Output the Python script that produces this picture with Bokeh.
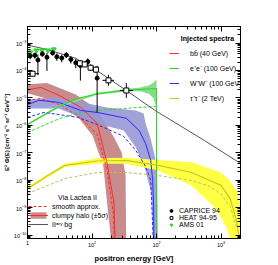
import numpy as np
from bokeh.plotting import figure
from bokeh.models import (LogAxis, FixedTicker, LogTickFormatter, Legend, LegendItem,
                          Label, Range1d, CustomJSTickFormatter)
from bokeh.embed import file_html
from bokeh.resources import INLINE

# ---------------- data (energies in GeV, fluxes as log10 of E^2 Phi) ----------------
# secondary background
bg_E = [1.0, 2.0, 5.6, 11.2, 34.0, 95.0, 550.0, 2000.0]
bg_log = [-3.08, -3.23, -3.56, -3.96, -4.73, -5.46, -6.55, -7.39]

# b bbar (40 GeV)
bb_E = [1.0, 1.62, 3.16, 6.76, 12.0, 17.0, 21.9, 22.9]
bb_log = [-4.70, -4.62, -4.92, -5.35, -5.93, -7.35, -8.82, -10.5]
bb_smooth_E = [1.0, 1.6, 3.2, 6.8, 12.0, 17.0, 21.4, 22.4]
bb_smooth_log = [-5.09, -5.02, -5.25, -5.75, -6.33, -7.60, -9.20, -10.5]
bb_up_E = [1.0, 2.0, 5.6, 11.2, 15.8, 22.4, 28.8, 33.1, 33.9]
bb_up_log = [-4.50, -4.46, -4.88, -5.38, -5.89, -6.48, -6.99, -7.80, -10.5]
bb_lo_E = [1.0, 3.16, 6.3, 10.2, 12.6, 14.8, 17.0, 20.4]
bb_lo_log = [-4.83, -5.16, -5.75, -6.37, -6.99, -7.39, -8.75, -10.5]

# e+e- (100 GeV)
ee_E = [1.0, 1.8, 3.16, 6.0, 12.0, 33.9, 67.6, 98.0, 100.0, 100.0]
ee_log = [-5.97, -5.62, -5.30, -5.02, -4.85, -4.72, -4.68, -4.66, -4.66, -10.5]
ee_smooth_E = [1.0, 1.8, 3.16, 6.0, 12.0, 33.9, 100.0, 100.0]
ee_smooth_log = [-6.26, -6.00, -5.75, -5.57, -5.46, -5.38, -5.31, -10.5]
ee_band_E = [1.0, 3.16, 12.0, 33.9, 56.2, 75.9, 89.1, 100.0]
ee_up_log = [-5.93, -5.26, -4.81, -4.68, -4.62, -4.55, -4.45, -4.33]
ee_lo_log = [-6.01, -5.34, -4.89, -4.77, -4.76, -4.85, -5.00, -5.35]

# W+W- (100 GeV)
ww_E = [1.0, 1.51, 3.0, 6.8, 12.0, 33.9, 53.7, 67.6, 81.3, 87.1, 90.2, 91.0]
ww_log = [-5.24, -5.09, -5.16, -5.46, -5.53, -5.74, -6.19, -6.66, -7.28, -8.01, -9.0, -10.5]
ww_smooth_E = [1.0, 1.8, 6.0, 12.0, 30.9, 47.9, 67.6, 81.3, 90.2]
ww_smooth_log = [-5.71, -5.53, -5.71, -5.97, -6.40, -6.92, -7.50, -8.01, -10.5]
ww_up_E = [1.0, 3.0, 17.0, 47.9, 63.1, 67.6, 81.3, 95.5, 102.0, 105.0]
ww_up_log = [-5.06, -4.98, -5.35, -5.46, -5.57, -5.93, -6.50, -7.20, -8.00, -10.5]
ww_lo_E = [1.0, 3.0, 12.0, 30.9, 47.9, 67.6, 83.2, 89.1]
ww_lo_log = [-5.39, -5.39, -5.93, -6.19, -6.81, -7.65, -8.50, -10.5]

# tau+tau- (2 TeV)
tt_E = [1.0, 2.0, 3.8, 12.0, 33.9, 107.0, 350.0, 1000.0, 1380.0, 1700.0, 1950.0]
tt_log = [-8.31, -7.85, -7.46, -7.30, -7.28, -7.46, -7.72, -8.19, -8.67, -9.40, -10.2]
tt_smooth_E = [1.0, 3.8, 12.0, 33.9, 107.0, 350.0, 630.0, 1000.0, 1410.0, 1780.0]
tt_smooth_log = [-8.49, -7.94, -7.72, -7.72, -7.83, -8.01, -8.20, -8.50, -9.00, -9.80]
tt_up_E = [1.0, 3.8, 12.0, 33.9, 107.0, 350.0, 1000.0, 1380.0, 1820.0, 2040.0, 2090.0]
tt_up_log = [-8.26, -7.40, -7.20, -7.18, -7.26, -7.35, -7.72, -8.01, -8.45, -9.03, -10.5]
tt_lo_E = [1.0, 3.8, 12.0, 33.9, 107.0, 350.0, 830.0, 1175.0, 1585.0]
tt_lo_log = [-8.36, -7.52, -7.40, -7.40, -7.65, -8.19, -9.03, -9.65, -10.5]

# measurements
cap_E = [1.1, 1.3, 1.45, 1.7, 2.0, 2.45, 2.85, 3.4, 4.0, 4.7, 5.6, 6.6, 8.6, 12.0]
cap_log = [-3.47, -3.45, -3.62, -3.40, -3.52, -3.36, -3.50, -3.55, -3.44, -3.60, -3.72, -3.82, -3.68, -4.28]
cap_err_lo = [0.12, 0.12, 0.55, 0.10, 0.50, 0.10, 0.15, 0.15, 0.10, 0.15, 0.20, 0.55, 0.15, 1.25]
cap_err_hi = [0.10, 0.10, 0.20, 0.10, 0.15, 0.10, 0.12, 0.12, 0.10, 0.12, 0.15, 0.20, 0.12, 0.45]

heat_E = [1.2, 6.5, 7.7, 9.5, 11.5, 18.0, 34.0]
heat_Elo = [1.0, 6.0, 7.1, 8.8, 10.5, 14.5, 27.0]
heat_Ehi = [1.5, 7.0, 8.4, 10.4, 12.8, 22.0, 43.0]
heat_log = [-4.12, -3.74, -3.78, -3.90, -3.97, -4.36, -4.73]
heat_err = [0.08, 0.10, 0.10, 0.12, 0.12, 0.20, 0.27]

ams_E = [1.1, 1.37, 1.68, 2.07, 2.55]
ams_log = [-3.34, -3.27, -3.27, -3.27, -3.23]
ams_err = [0.05, 0.05, 0.05, 0.05, 0.05]

x_ticks = [1, 10, 100, 1000]
y_exponents = list(range(-10, -2))

# ---------------- helpers ----------------
def f(v):
    return list(10.0 ** np.asarray(v, dtype=float))

def band(up_E, up_log, lo_E, lo_log):
    return list(up_E) + list(lo_E)[::-1], f(list(up_log) + list(lo_log)[::-1])

FONT = "Liberation Sans"

p = figure(x_axis_type="log", y_axis_type="log",
           x_range=Range1d(1, 2000), y_range=Range1d(7.5e-11, 4e-3),
           width=262, height=265,
           min_border_left=20, min_border_right=22, min_border_top=26, min_border_bottom=27,
           output_backend="svg", toolbar_location=None)
p.grid.visible = False
p.outline_line_color = "black"
p.background_fill_color = "white"

xt = FixedTicker(ticks=x_ticks,
                 minor_ticks=[m * 10.0 ** k for k in range(0, 4) for m in range(2, 10)])
yt = FixedTicker(ticks=[10.0 ** k for k in y_exponents],
                 minor_ticks=[m * 10.0 ** k for k in range(-11, -2) for m in range(2, 10)])

def style_axis(ax, ticker, labels=True):
    ax.ticker = ticker
    ax.major_tick_in = 5
    ax.major_tick_out = 0
    ax.minor_tick_in = 3
    ax.minor_tick_out = 0
    ax.axis_line_color = "black"
    ax.major_tick_line_color = "black"
    ax.minor_tick_line_color = "black"
    ax.major_label_text_font = FONT
    ax.major_label_text_font_size = "5.5px"
    ax.major_label_text_color = "black"
    ax.major_label_standoff = 1 if labels else 0
    if labels:
        ax.formatter = LogTickFormatter(min_exponent=1)
    else:
        ax.formatter = CustomJSTickFormatter(code="return ''")

style_axis(p.xaxis[0], xt)
style_axis(p.yaxis[0], yt)
p.xaxis.major_label_standoff = 2
p.xaxis.axis_label = "positron energy [GeV]"
p.yaxis.axis_label = "E² Φ(E) [cm⁻² s⁻¹ sr⁻¹ GeV⁻¹]"
for ax in (p.xaxis[0], p.yaxis[0]):
    ax.axis_label_text_font = FONT
    ax.axis_label_text_font_style = "bold"
    ax.axis_label_text_color = "black"
p.xaxis.axis_label_standoff = 4
p.yaxis.axis_label_standoff = 1
p.xaxis.axis_label_text_font_size = "7.5px"
p.yaxis.axis_label_text_font_size = "6px"

top = LogAxis()
style_axis(top, xt, labels=False)
p.add_layout(top, "above")
right = LogAxis()
style_axis(right, yt, labels=False)
p.add_layout(right, "right")

# ---------------- bands ----------------
RED, GREEN, BLUE = "#ff2a2a", "#22dd22", "#2a2aff"
bx, by = band(bb_up_E, bb_up_log, bb_lo_E, bb_lo_log)
r_bb_band = p.patch(bx, by, fill_color="#c98b8b", line_color=None)
wx, wy = band(ww_up_E, ww_up_log, ww_lo_E, ww_lo_log)
r_ww_band = p.patch(wx, wy, fill_color="#9898d6", line_color=None, fill_alpha=0.9)
ex, ey = band(ee_band_E, ee_up_log, ee_band_E, ee_lo_log)
r_ee_band = p.patch(ex, ey, fill_color="#88dc88", line_color=None)
tx, ty = band(tt_up_E, tt_up_log, tt_lo_E, tt_lo_log)
r_tt_band = p.patch(tx, ty, fill_color="#ffff46", line_color=None)

# ---------------- curves ----------------
r_bb_s = p.line(bb_smooth_E, f(bb_smooth_log), line_color=RED, line_dash="3 2", line_width=1)
r_ww_s = p.line(ww_smooth_E, f(ww_smooth_log), line_color=BLUE, line_dash="3 2", line_width=1)
r_ee_s = p.line(ee_smooth_E, f(ee_smooth_log), line_color=GREEN, line_dash="3 2", line_width=1)
r_tt_s = p.line(tt_smooth_E, f(tt_smooth_log), line_color="#bdbd66", line_dash="3 2", line_width=1)

r_bb = p.line(bb_E, f(bb_log), line_color=RED, line_width=1)
r_ww = p.line(ww_E, f(ww_log), line_color=BLUE, line_width=1)
r_ee = p.line(ee_E, f(ee_log), line_color=GREEN, line_width=1)
r_tt = p.line(tt_E, f(tt_log), line_color="#c8c81e", line_width=1.2)

r_bg = p.line(bg_E, f(bg_log), line_color="#555555", line_width=1)

# ---------------- data points ----------------
ams_y = np.asarray(ams_log)
p.segment(ams_E, f(ams_y - np.asarray(ams_err)), ams_E, f(ams_y + np.asarray(ams_err)),
          line_color="#22cc22", line_width=1)
r_ams = p.scatter(ams_E, f(ams_log), marker="inverted_triangle", size=5,
                  fill_color="#33ee33", line_color="#22cc22")

cy = np.asarray(cap_log)
p.segment(cap_E, f(cy - np.asarray(cap_err_lo)), cap_E, f(cy + np.asarray(cap_err_hi)),
          line_color="black", line_width=1)
r_cap = p.scatter(cap_E, f(cap_log), marker="circle", size=4,
                  fill_color="black", line_color="black")

hy = np.asarray(heat_log)
p.segment(heat_E, f(hy - np.asarray(heat_err)), heat_E, f(hy + np.asarray(heat_err)),
          line_color="black", line_width=1)
p.segment(heat_Elo, f(heat_log), heat_Ehi, f(heat_log), line_color="black", line_width=1)
r_heat = p.scatter(heat_E, f(heat_log), marker="square", size=5,
                   fill_color="white", line_color="black")

# ---------------- legends ----------------
def make_legend(items, loc, gw, gh, lh, spacing, standoff):
    lg = Legend(items=items, location=loc, orientation="vertical",
                glyph_width=gw, glyph_height=gh, label_height=lh, spacing=spacing,
                label_standoff=standoff, padding=0, margin=0,
                border_line_color=None, background_fill_alpha=0,
                label_text_font=FONT, label_text_font_size="7px",
                label_text_color="black", label_text_font_style="normal")
    p.add_layout(lg, "center")
    return lg

make_legend([
    LegendItem(label="bb\u0304 (40 GeV)", renderers=[r_bb]),
    LegendItem(label="e⁺e⁻ (100 GeV)", renderers=[r_ee]),
    LegendItem(label="W⁺W⁻ (100 GeV)", renderers=[r_ww]),
    LegendItem(label="τ⁺τ⁻ (2 TeV)", renderers=[r_tt]),
], (142, 135), 10, 10, 10, 5, 11)

make_legend([
    LegendItem(label="smooth approx.", renderers=[r_bb_s]),
    LegendItem(label="clumpy halo (±5σ)", renderers=[r_bb_band, r_bb]),
    LegendItem(label="IIᵃʳʸ bg", renderers=[r_bg]),
], (1, 10), 20, 8, 8, 1, 4)

make_legend([
    LegendItem(label="CAPRICE 94", renderers=[r_cap]),
    LegendItem(label="HEAT 94-95", renderers=[r_heat]),
    LegendItem(label="AMS 01", renderers=[r_ams]),
], (140, 10), 8, 7, 7, 0, 4)

p.add_layout(Label(x=180, y=200, x_units="screen", y_units="screen", text="Injected spectra",
                   text_font=FONT, text_font_size="7px", text_font_style="bold",
                   text_color="black", text_align="center", text_baseline="middle"))
p.add_layout(Label(x=50, y=41, x_units="screen", y_units="screen", text="Via Lactea II",
                   text_font=FONT, text_font_size="7px", text_font_style="normal",
                   text_color="black", text_align="center", text_baseline="middle"))

open("out.html", "w").write(file_html(p, INLINE))
